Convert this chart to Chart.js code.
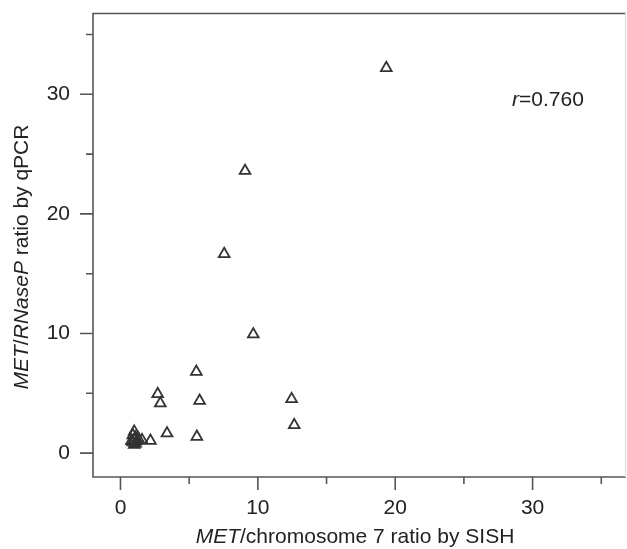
<!DOCTYPE html>
<html>
<head>
<meta charset="utf-8">
<script src="https://cdn.jsdelivr.net/npm/chart.js@4.4.1/dist/chart.umd.min.js"></script>
<style>
  html, body { margin: 0; padding: 0; background: #fff; overflow: hidden; }
  canvas { display: block; }
</style>
</head>
<body>
<canvas id="c" width="627" height="549" style="width:627px;height:549px"></canvas>
<script>
// SISH ratio (x) vs qPCR ratio (y)
const sishRatio = [19.35, 9.07, 7.55, 9.67, 5.52, 5.76, 5.56, 2.71, 2.90, 3.39, 2.18, 1.57, 12.46, 12.65,
                   1.00, 0.90, 1.10, 1.00, 0.90, 1.20, 1.00, 1.10, 1.30, 0.80];
const qpcrRatio = [32.2, 23.6, 16.65, 9.93, 6.8, 4.38, 1.37, 4.94, 4.16, 1.65, 1.03, 1.09, 4.52, 2.34,
                   1.80, 1.50, 1.30, 1.10, 0.90, 1.00, 0.70, 0.80, 1.20, 1.00];
const majorTicks = [0, 10, 20, 30];
const minorTicks = [5, 15, 25, 35];
const axisMin = -2, axisMax = 36.8;
const corrLabel = { italic: 'r', rest: '=0.760' };
const xTitle = [{ t: 'MET', i: true }, { t: '/chromosome 7 ratio by SISH', i: false }];
const yTitle = [{ t: 'MET', i: true }, { t: '/', i: false }, { t: 'RNaseP', i: true }, { t: ' ratio by qPCR', i: false }];

const FONT = "'Liberation Sans', Arial, Helvetica, sans-serif";
const FS = 21;
const TXT = '#222';

const points = sishRatio.map((x, k) => ({ x, y: qpcrRatio[k] }));

function drawRich(ctx, parts, cx, cy) {
  ctx.textBaseline = 'middle';
  ctx.textAlign = 'left';
  let total = 0;
  parts.forEach(p => { ctx.font = (p.i ? 'italic ' : '') + FS + 'px ' + FONT; total += ctx.measureText(p.t).width; });
  let x = cx - total / 2;
  parts.forEach(p => {
    ctx.font = (p.i ? 'italic ' : '') + FS + 'px ' + FONT;
    ctx.fillText(p.t, x, cy);
    x += ctx.measureText(p.t).width;
  });
}

const decor = {
  id: 'decor',
  afterDraw(chart) {
    const ctx = chart.ctx;
    const a = chart.chartArea;
    const xs = chart.scales.x, ys = chart.scales.y;
    ctx.save();
    // frame
    ctx.lineWidth = 1.6;
    ctx.strokeStyle = '#555';
    ctx.beginPath();
    ctx.moveTo(a.right, a.top + 0.5); ctx.lineTo(a.left, a.top + 0.5);
    ctx.lineTo(a.left, a.bottom); ctx.lineTo(a.right, a.bottom);
    ctx.stroke();
    ctx.lineWidth = 1;
    ctx.strokeStyle = '#ddd';
    ctx.beginPath();
    ctx.moveTo(a.right - 0.5, a.top); ctx.lineTo(a.right - 0.5, a.bottom);
    ctx.stroke();
    // ticks
    ctx.strokeStyle = '#555';
    ctx.lineWidth = 1.6;
    ctx.beginPath();
    majorTicks.forEach(v => {
      const px = xs.getPixelForValue(v);
      ctx.moveTo(px, a.bottom); ctx.lineTo(px, a.bottom + 13);
      const py = ys.getPixelForValue(v);
      ctx.moveTo(a.left, py); ctx.lineTo(a.left - 13, py);
    });
    minorTicks.forEach(v => {
      const px = xs.getPixelForValue(v);
      ctx.moveTo(px, a.bottom); ctx.lineTo(px, a.bottom + 7);
      const py = ys.getPixelForValue(v);
      ctx.moveTo(a.left, py); ctx.lineTo(a.left - 7, py);
    });
    ctx.stroke();
    // titles
    ctx.fillStyle = TXT;
    drawRich(ctx, xTitle, 355, 537);
    ctx.save();
    ctx.translate(22, 257);
    ctx.rotate(-Math.PI / 2);
    drawRich(ctx, yTitle, 0, 0);
    ctx.restore();
    // correlation label
    drawRich(ctx, [{ t: corrLabel.italic, i: true }, { t: corrLabel.rest, i: false }], 548, 100);
    ctx.restore();
  }
};

function zeroPad(s) { s.paddingTop = 0; s.paddingBottom = 0; s.paddingLeft = 0; s.paddingRight = 0; }

const mkTicks = pad => ({
  color: TXT,
  font: { family: FONT, size: FS },
  padding: pad,
  callback: v => (majorTicks.includes(v) ? String(v) : '')
});

new Chart(document.getElementById('c'), {
  type: 'scatter',
  data: {
    datasets: [{
      data: points,
      pointStyle: 'triangle',
      radius: 6.2,
      borderWidth: 1.8,
      borderColor: '#333',
      backgroundColor: 'rgba(255,255,255,0)'
    }]
  },
  options: {
    responsive: false,
    maintainAspectRatio: false,
    devicePixelRatio: 1,
    animation: false,
    events: [],
    layout: { autoPadding: false, padding: { top: 13, right: 1, left: 0, bottom: 0 } },
    plugins: { legend: { display: false }, tooltip: { enabled: false } },
    scales: {
      x: {
        type: 'linear', min: axisMin, max: axisMax,
        afterBuildTicks: s => { s.ticks = majorTicks.map(v => ({ value: v })); },
        afterFit: s => { s.height = 72; zeroPad(s); },
        grid: { display: true, drawOnChartArea: false, drawTicks: true, tickLength: 13, color: 'rgba(0,0,0,0)' },
        border: { display: false },
        ticks: mkTicks(6)
      },
      y: {
        type: 'linear', min: axisMin, max: axisMax,
        afterBuildTicks: s => { s.ticks = majorTicks.map(v => ({ value: v })); },
        afterFit: s => { s.width = 93; zeroPad(s); },
        grid: { display: true, drawOnChartArea: false, drawTicks: true, tickLength: 13, color: 'rgba(0,0,0,0)' },
        border: { display: false },
        ticks: mkTicks(10)
      }
    }
  },
  plugins: [decor]
});
</script>
</body>
</html>
